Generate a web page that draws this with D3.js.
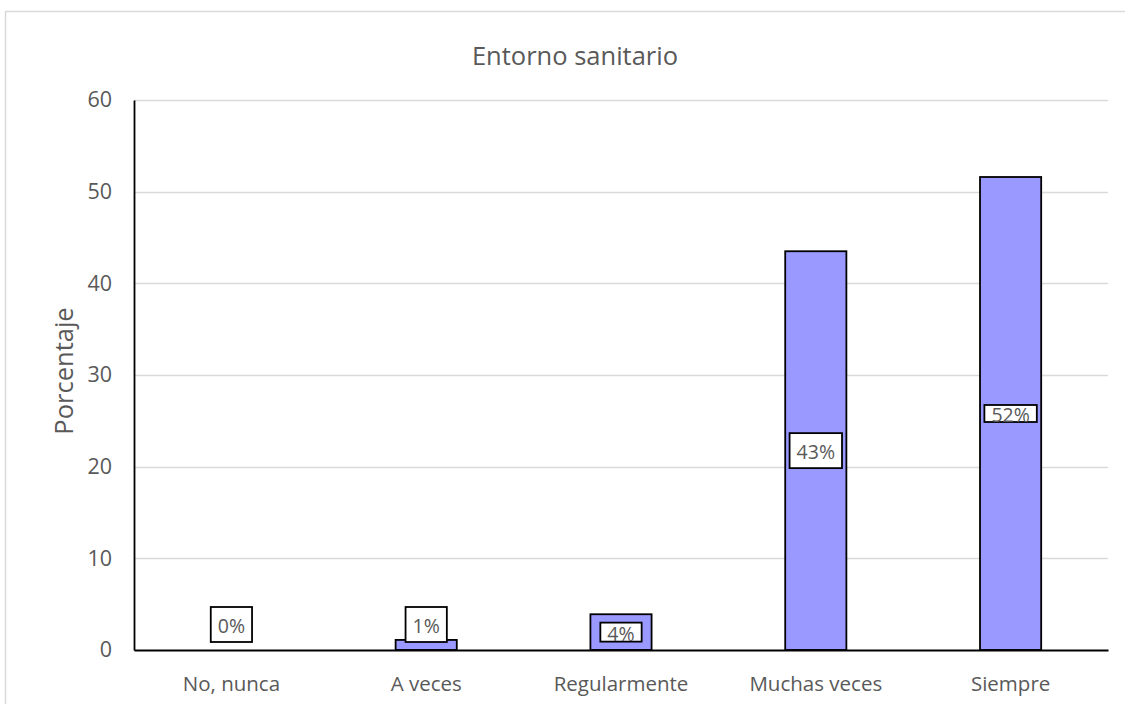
<!DOCTYPE html>
<html>
<head>
<meta charset="utf-8">
<script src="https://cdn.jsdelivr.net/npm/d3@7"></script>
<style>
  html, body { margin: 0; padding: 0; background: #fff; }
  svg text { font-family: "Open Sans", "Noto Sans", sans-serif; fill: #595959; }
</style>
</head>
<body>
<svg id="chart" width="1125" height="704"></svg>
<script>
// Survey answers for "Entorno sanitario"
const categories = ["No, nunca", "A veces", "Regularmente", "Muchas veces", "Siempre"];
const percentages = [0, 1.1, 3.9, 43.5, 51.6];
const valueLabels = ["0%", "1%", "4%", "43%", "52%"];
const yTicks = [0, 10, 20, 30, 40, 50, 60];

const chartTitle = "Entorno sanitario";
const yTitle = "Porcentaje";

const svg = d3.select("#chart");
const margin = { left: 134, right: 17, top: 100, bottom: 54 };
const W = 1125, H = 704;

// outer chart frame
svg.append("rect")
  .attr("x", 5.5).attr("y", 11.5)
  .attr("width", 1140).attr("height", 720)
  .attr("fill", "#fff").attr("stroke", "#d9d9d9").attr("stroke-width", 1.5);

const x = d3.scaleBand()
  .domain(categories)
  .range([margin.left, W - margin.right])
  .paddingInner(0.686)
  .paddingOuter(0.343);

const y = d3.scaleLinear()
  .domain([0, 60])
  .range([H - margin.bottom, margin.top]);

// horizontal gridlines
svg.append("g")
  .selectAll("line")
  .data(yTicks.filter(d => d > 0))
  .join("line")
  .attr("x1", margin.left).attr("x2", W - margin.right)
  .attr("y1", d => Math.round(y(d)) + 0.5).attr("y2", d => Math.round(y(d)) + 0.5)
  .attr("stroke", "#d9d9d9").attr("stroke-width", 1.5);

// y axis
const yAxis = svg.append("g")
  .attr("transform", `translate(${margin.left},0)`)
  .call(d3.axisLeft(y).tickValues(yTicks).tickSize(0).tickPadding(22));
yAxis.select(".domain").attr("stroke", "#000").attr("stroke-width", 1.8);
yAxis.selectAll("text").style("font-size", "21.5px").attr("fill", "#595959");

// bars
svg.append("g")
  .selectAll("rect")
  .data(categories)
  .join("rect")
  .attr("x", d => x(d))
  .attr("width", x.bandwidth())
  .attr("y", (d, i) => y(percentages[i]))
  .attr("height", (d, i) => y(0) - y(percentages[i]))
  .attr("fill", "#9999ff")
  .attr("stroke", "#000")
  .attr("stroke-width", 1.8)
  .attr("display", (d, i) => percentages[i] > 0 ? null : "none");

// x axis
const xAxis = svg.append("g")
  .attr("transform", `translate(0,${y(0)})`)
  .call(d3.axisBottom(x).tickSize(0).tickPadding(26));
xAxis.select(".domain").attr("stroke", "#000").attr("stroke-width", 1.8);
xAxis.selectAll("text").style("font-size", "20.5px").attr("fill", "#595959");

// value labels in white boxes
const labelBoxHeight = { "Regularmente": 19, "Siempre": 17 };
const labels = svg.append("g")
  .selectAll("g")
  .data(categories)
  .join("g");

labels.each(function (d, i) {
  const g = d3.select(this);
  const cx = x(d) + x.bandwidth() / 2;
  const txt = g.append("text")
    .attr("text-anchor", "middle")
    .attr("dominant-baseline", "central")
    .style("font-size", "19.5px")
    .text(valueLabels[i]);
  const tw = txt.node().getComputedTextLength();
  const bh = labelBoxHeight[d] || 35;
  const bw = tw + 14;
  // centered in the bar, but lifted above the axis when the bar is too short
  let cy = (y(0) + y(percentages[i])) / 2;
  cy = Math.min(cy, y(0) - 8 - bh / 2);
  if (labelBoxHeight[d] && y(0) - y(percentages[i]) > bh) cy = (y(0) + y(percentages[i])) / 2;
  g.insert("rect", "text")
    .attr("x", cx - bw / 2).attr("y", cy - bh / 2)
    .attr("width", bw).attr("height", bh)
    .attr("fill", "#fff").attr("stroke", "#000").attr("stroke-width", 1.8);
  txt.attr("x", cx).attr("y", cy + 1);
});

// titles
svg.append("text")
  .attr("x", 575).attr("y", 55)
  .attr("text-anchor", "middle").attr("dominant-baseline", "central")
  .style("font-size", "25.5px")
  .text(chartTitle);

svg.append("text")
  .attr("transform", `translate(63,${(y(0) + y(60)) / 2 - 4}) rotate(-90)`)
  .attr("text-anchor", "middle").attr("dominant-baseline", "central")
  .style("font-size", "25.5px")
  .text(yTitle);
</script>
</body>
</html>
